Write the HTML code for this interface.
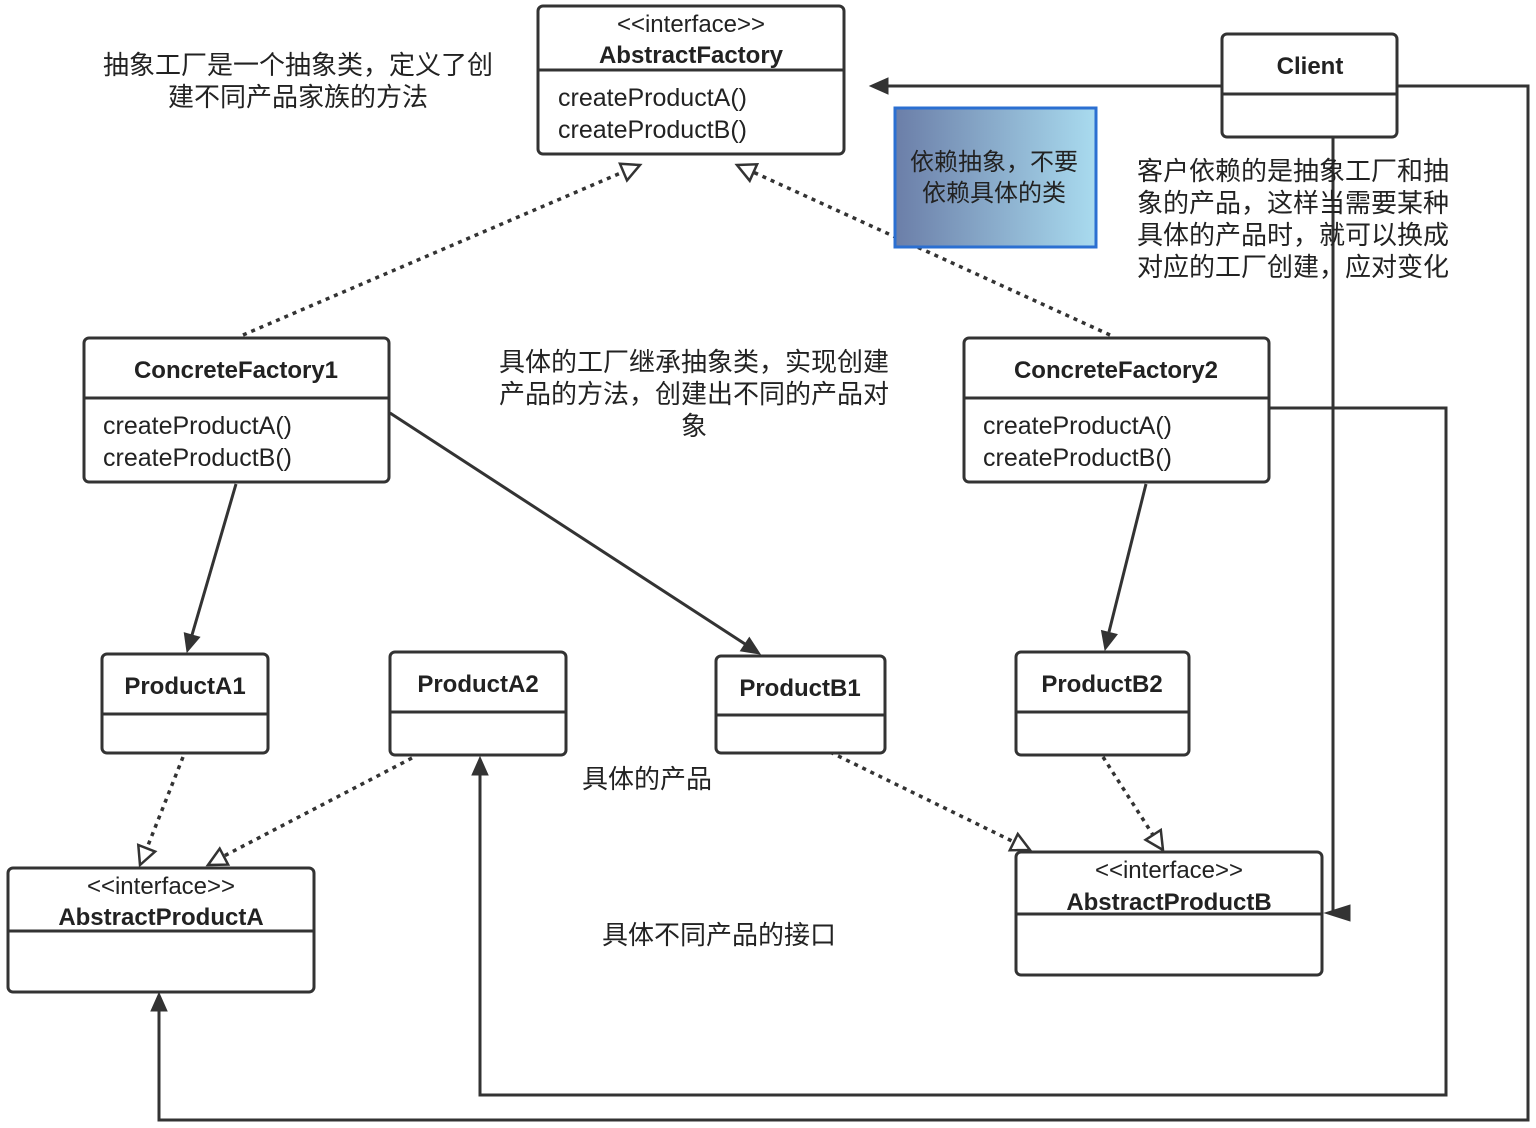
<!DOCTYPE html>
<html><head><meta charset="utf-8"><style>
html,body{margin:0;padding:0;background:#fff;}
svg{display:block}
text{font-family:"Liberation Sans","Noto Sans CJK SC",sans-serif;fill:#222;}
</style></head><body>
<svg width="1536" height="1128" viewBox="0 0 1536 1128" xmlns="http://www.w3.org/2000/svg">
<defs>
<linearGradient id="g" x1="0" x2="1" y1="0" y2="0">
<stop offset="0" stop-color="#6b7ea8"/><stop offset="1" stop-color="#a9dbef"/>
</linearGradient>
</defs>
<g fill="none" stroke="#333" stroke-width="3">
<path d="M1222,86 L886,86"/>
<path d="M1397,86 L1528,86 L1528,1120 L159,1120 L159,1009"/>
<path d="M1333,137 L1333,913 L1348,913"/>
<path d="M1269,408 L1446,408 L1446,1095 L480,1095 L480,773"/>
<path d="M236,484 L192,635"/>
<path d="M390,413 L745,644"/>
<path d="M1146,484 L1109,632"/>
<g stroke-dasharray="4,5" stroke-width="3.5">
<path d="M243,335 L623,172"/>
<path d="M1110,335 L753,172"/>
<path d="M183,757 L147,848"/>
<path d="M412,758 L224,856"/>
<path d="M830,752 L1014,842"/>
<path d="M1103,757 L1153,835"/>
</g>
</g>
<g fill="#333" stroke="#333" stroke-width="1">
<polygon points="870,86 888,78 888,94"/>
<polygon points="159,993 151,1011 167,1011"/>
<polygon points="1325,913 1350,905 1350,921"/>
<polygon points="480,757 472,775 488,775"/>
<polygon points="187,652 199.7,637.2 184.3,632.8"/>
<polygon points="760,654 740.5,650.9 749.3,637.5"/>
<polygon points="1105,650 1117.1,634.4 1101.5,630.6"/>
</g>
<g fill="#fff" stroke="#333" stroke-width="2.5">
<polygon points="640,165 627,180.4 620,163.8"/>
<polygon points="737,165 757.1,164.3 749.7,180.7"/>
<polygon points="140,865 155.1,851.6 138.3,845"/>
<polygon points="208,865 228.1,864.6 219.7,848.6"/>
<polygon points="1030,850 1009.8,850.2 1017.8,834"/>
<polygon points="1163,850 1145.6,839.8 1160.8,830"/>
</g>
<rect x="895" y="108" width="201" height="139" fill="url(#g)" stroke="#2b6fd1" stroke-width="3"/>
<text x="994" y="170" font-size="24" text-anchor="middle">依赖抽象，不要</text>
<text x="994" y="201" font-size="24" text-anchor="middle">依赖具体的类</text>
<g fill="#fff" stroke="#333" stroke-width="3">
<rect x="538" y="6" width="306" height="148" rx="5"/><line x1="538" y1="70" x2="844" y2="70"/>
<rect x="1222" y="34" width="175" height="103" rx="5"/><line x1="1222" y1="94" x2="1397" y2="94"/>
<rect x="84" y="338" width="305" height="144" rx="5"/><line x1="84" y1="398" x2="389" y2="398"/>
<rect x="964" y="338" width="305" height="144" rx="5"/><line x1="964" y1="398" x2="1269" y2="398"/>
<rect x="102" y="654" width="166" height="99" rx="5"/><line x1="102" y1="714" x2="268" y2="714"/>
<rect x="390" y="652" width="176" height="103" rx="5"/><line x1="390" y1="712" x2="566" y2="712"/>
<rect x="716" y="656" width="169" height="97" rx="5"/><line x1="716" y1="715" x2="885" y2="715"/>
<rect x="1016" y="652" width="173" height="103" rx="5"/><line x1="1016" y1="712" x2="1189" y2="712"/>
<rect x="8" y="868" width="306" height="124" rx="5"/><line x1="8" y1="931" x2="314" y2="931"/>
<rect x="1016" y="852" width="306" height="123" rx="5"/><line x1="1016" y1="914" x2="1322" y2="914"/>
</g>
<g font-size="24" text-anchor="middle" font-weight="bold">
<text x="691" y="32" font-weight="normal">&lt;&lt;interface&gt;&gt;</text>
<text x="691" y="63">AbstractFactory</text>
<text x="1310" y="74">Client</text>
<text x="236" y="378">ConcreteFactory1</text>
<text x="1116" y="378">ConcreteFactory2</text>
<text x="185" y="694">ProductA1</text>
<text x="478" y="692">ProductA2</text>
<text x="800" y="696">ProductB1</text>
<text x="1102" y="692">ProductB2</text>
<text x="161" y="894" font-weight="normal">&lt;&lt;interface&gt;&gt;</text>
<text x="161" y="925">AbstractProductA</text>
<text x="1169" y="878" font-weight="normal">&lt;&lt;interface&gt;&gt;</text>
<text x="1169" y="910">AbstractProductB</text>
</g>
<g font-size="25">
<text x="558" y="106">createProductA()</text>
<text x="558" y="138">createProductB()</text>
<text x="103" y="434">createProductA()</text>
<text x="103" y="466">createProductB()</text>
<text x="983" y="434">createProductA()</text>
<text x="983" y="466">createProductB()</text>
</g>
<g font-size="26">
<text x="298" y="74" text-anchor="middle">抽象工厂是一个抽象类，定义了创</text>
<text x="298" y="106" text-anchor="middle">建不同产品家族的方法</text>
<text x="694" y="371" text-anchor="middle">具体的工厂继承抽象类，实现创建</text>
<text x="694" y="403" text-anchor="middle">产品的方法，创建出不同的产品对</text>
<text x="694" y="435" text-anchor="middle">象</text>
<text x="1137" y="180">客户依赖的是抽象工厂和抽</text>
<text x="1137" y="212">象的产品，这样当需要某种</text>
<text x="1137" y="244">具体的产品时，就可以换成</text>
<text x="1137" y="276">对应的工厂创建，应对变化</text>
<text x="582" y="788">具体的产品</text>
<text x="602" y="944">具体不同产品的接口</text>
</g>
</svg>
</body></html>
